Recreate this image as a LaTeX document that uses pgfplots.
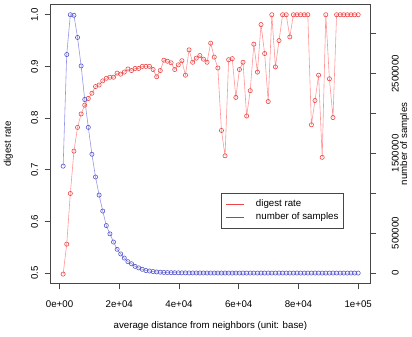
\documentclass[border=0pt]{standalone}
\usepackage{fontspec}
\setmainfont{Liberation Sans}
\usepackage{pgfplots}
\usepackage{pgfplotstable}
\pgfplotsset{compat=1.18}
\definecolor{redmark}{RGB}{238,70,70}
\definecolor{redline}{RGB}{255,150,150}
\definecolor{bluemark}{RGB}{85,85,205}
\definecolor{blueline}{RGB}{150,150,230}
\definecolor{axcol}{RGB}{70,70,70}
\pgfplotstableread{
x rate samples
1205 0.498 1341000
2410 0.556 2741000
3614 0.654 3240000
4819 0.736 3233000
6024 0.782 2955000
7229 0.808 2598000
8434 0.825 2177000
9639 0.838 1827000
10843 0.848 1490000
12048 0.861 1205000
13253 0.864 978000
14458 0.872 778000
15663 0.877 596000
16867 0.879 492000
18072 0.879 389000
19277 0.887 298000
20482 0.885 240000
21687 0.889 188000
22892 0.895 143000
24096 0.892 117000
25301 0.896 84000
26506 0.896 65000
27711 0.900 47000
28916 0.900 32000
30120 0.900 26000
31325 0.894 19000
32530 0.880 14000
33735 0.892 11000
34940 0.912 8000
36145 0.910 6000
37349 0.907 5000
38554 0.894 4000
39759 0.903 3200
40964 0.911 2600
42169 0.883 2100
43373 0.932 1700
44578 0.908 1400
45783 0.916 1200
46988 0.921 1000
48193 0.914 850
49398 0.908 700
50602 0.945 600
51807 0.918 500
53012 0.897 450
54217 0.776 400
55422 0.727 350
56627 0.913 300
57831 0.915 270
59036 0.840 240
60241 0.894 210
61446 0.908 200
62651 0.804 180
63855 0.853 170
65060 0.943 160
66265 0.889 150
67470 0.981 140
68675 0.925 130
69880 0.832 120
71084 1.000 115
72289 0.899 110
73494 0.950 105
74699 1.000 100
75904 1.000 95
77108 0.957 90
78313 1.000 88
79518 1.000 85
80723 1.000 82
81928 1.000 80
83133 1.000 78
84337 0.787 75
85542 0.834 72
86747 0.883 70
87952 0.724 68
89157 1.000 66
90361 0.876 64
91566 0.801 62
92771 1.000 60
93976 1.000 58
95181 1.000 56
96386 1.000 54
97590 1.000 52
98795 1.000 50
100000 1.000 48
}\data
\begin{document}
\begin{tikzpicture}[font=\fontsize{9.7bp}{11.6bp}\selectfont]
\useasboundingbox (-50.7bp,-53.5bp) rectangle (361.3bp,283.4bp);
\pgfplotsset{
  common/.style={
    at={(0,0)}, anchor=south west, scale only axis,
    width=319.3bp, height=279bp,
    xmin=-2960, xmax=103960,
    scaled x ticks=false, scaled y ticks=false,
    tick align=outside, major tick length=6bp,
    every tick/.style={axcol, line width=0.8bp},
    axis line style={axcol, line width=0.8bp},
    clip=false,
  }
}
\begin{axis}[common,
  ymin=0.48, ymax=1.02,
  xtick pos=left, ytick pos=left,
  xtick={0,20000,40000,60000,80000,100000},
  xticklabels={0e+00,2e+04,4e+04,6e+04,8e+04,1e+05},
  ytick={0.5,0.6,0.7,0.8,0.9,1.0},
  yticklabels={0.5,0.6,0.7,0.8,0.9,1.0},
  xticklabel style={anchor=base, yshift=-18.2bp},
  yticklabel style={xshift=-6.9bp, rotate=90, anchor=base},
  xlabel={average distance from neighbors (unit: base)},
  ylabel={digest rate},
  every axis x label/.style={at={(axis description cs:0.5,0)}, anchor=base, yshift=-45.5bp},
  every axis y label/.style={at={(axis description cs:0,0.5)}, xshift=-39.7bp, rotate=90, anchor=base},
]
\addplot[color=redline, line width=0.6bp, mark=o, mark size=2.1bp,
  mark options={draw=redmark, line width=0.6bp, solid}]
  table[x=x, y=rate] {\data};
\end{axis}
\begin{axis}[common,
  ymin=-129600, ymax=3369600,
  axis x line=none, axis y line*=right,
  ytick={0,500000,1000000,1500000,2000000,2500000,3000000},
  yticklabels={0,500000,,1500000,,2500000,},
  yticklabel style={xshift=22.5bp, rotate=90, anchor=base},
  ylabel={number of samples},
  every axis y label/.style={at={(axis description cs:1,0.5)}, xshift=37bp, rotate=90, anchor=base},
  legend image code/.code={\draw[#1] (0bp,0bp) -- (17.7bp,0bp);},
  legend cell align=left,
  legend style={at={(axis description cs:0.5324,0.3233)}, anchor=north west,
    draw=axcol, line width=0.8bp, fill=white,
    inner xsep=5bp, inner ysep=6.5bp, row sep=4.3bp, column sep=11.4bp,
    nodes={inner ysep=0pt, inner xsep=0pt, text height=6bp, text depth=3bp},
    column 1/.style={nodes={inner xsep=5.3bp}},
  },
]
\addlegendimage{color=redmark, line width=0.8bp}
\addlegendentry{digest rate}
\addplot[color=blueline, line width=0.6bp, mark=o, mark size=2.1bp,
  mark options={draw=bluemark, line width=0.6bp, solid}, forget plot]
  table[x=x, y=samples] {\data};
\addlegendimage{color=bluemark, line width=0.8bp}
\addlegendentry{number of samples}
\end{axis}
\end{tikzpicture}
\end{document}
